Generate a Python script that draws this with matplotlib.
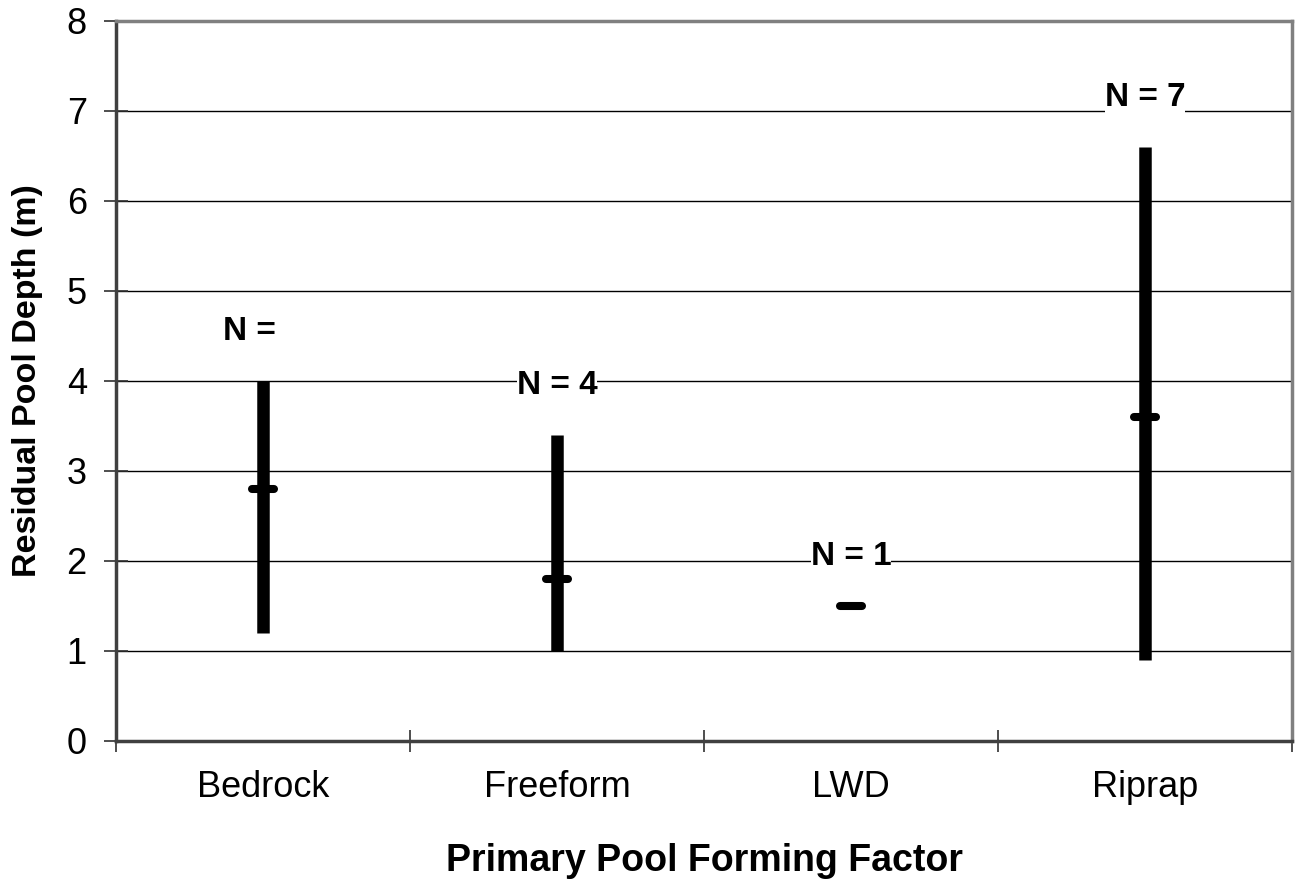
import matplotlib
matplotlib.use("Agg")
import matplotlib.pyplot as plt
from matplotlib.transforms import offset_copy

plt.rcParams['font.family'] = ['Liberation Sans', 'DejaVu Sans']

# Residual pool depth ranges by primary pool forming factor
categories = ["Bedrock", "Freeform", "LWD", "Riprap"]
depth_min = [1.2, 1.0, 1.5, 0.9]
depth_max = [4.0, 3.4, 1.5, 6.6]
depth_mean = [2.8, 1.8, 1.5, 3.6]
counts = ["", "4", "1", "7"]
y_ticks = [0, 1, 2, 3, 4, 5, 6, 7, 8]

fig = plt.figure(figsize=(12.96, 8.84), dpi=100)
ax = fig.add_axes([116 / 1296, 1 - 741 / 884, (1292 - 116) / 1296, (741 - 21) / 884])

ax.set_xlim(0, len(categories))
ax.set_ylim(y_ticks[0], y_ticks[-1])
centers = [i + 0.5 for i in range(len(categories))]

# horizontal gridlines
ax.set_yticks(y_ticks)
ax.yaxis.grid(True, color='#000000', linewidth=1.0)
ax.set_axisbelow(True)

# range bars and mean markers
for x, lo, hi, m in zip(centers, depth_min, depth_max, depth_mean):
    if hi > lo:
        ax.plot([x, x], [lo, hi], color='black', linewidth=9.0,
                solid_capstyle='butt', zorder=3)
    else:
        ax.plot([x, x], [lo - 0.01, hi + 0.01], color='black', linewidth=0.8, zorder=4)
    ax.plot([x - 0.038, x + 0.038], [m, m], color='black', linewidth=5.8,
            solid_capstyle='round', zorder=3)

# sample size labels, left-aligned so the "N =" part sits the same for every label
label_size = 24
probe = ax.text(0, 0, "N = 0", fontsize=label_size, fontweight='bold')
fig.canvas.draw()
half_w = probe.get_window_extent().width / 2
probe.remove()
for x, hi, n in zip(centers, depth_max, counts):
    tr = offset_copy(ax.transData, fig=fig, x=-half_w, y=0, units='dots')
    ax.text(x, hi + 0.55, f"N = {n}", transform=tr, fontsize=label_size, fontweight='bold',
            ha='left', va='center', zorder=5,
            bbox=dict(facecolor='white', edgecolor='none', pad=0))

# x axis: ticks on category boundaries, labels at centers
ax.set_xticks(range(len(categories) + 1))
ax.set_xticklabels([])
ax.set_xticks(centers, minor=True)
ax.set_xticklabels(categories, minor=True, fontsize=26)
ax.tick_params(axis='x', which='major', direction='inout', length=16, width=1.2, color='#303030')
ax.tick_params(axis='x', which='minor', length=0, pad=21)
ax.tick_params(axis='y', direction='inout', length=17, width=1.2, color='#303030',
               labelsize=26, pad=12.5)

ax.set_xlabel("Primary Pool Forming Factor", fontsize=27, fontweight='bold', labelpad=27)
ax.set_ylabel("Residual Pool Depth (m)", fontsize=24.5, fontweight='bold', labelpad=17)

for side, col in (('left', '#404040'), ('bottom', '#404040'), ('top', '#808080'), ('right', '#808080')):
    ax.spines[side].set_color(col)
    ax.spines[side].set_linewidth(2.5)

fig.savefig("out.png", dpi=100)
